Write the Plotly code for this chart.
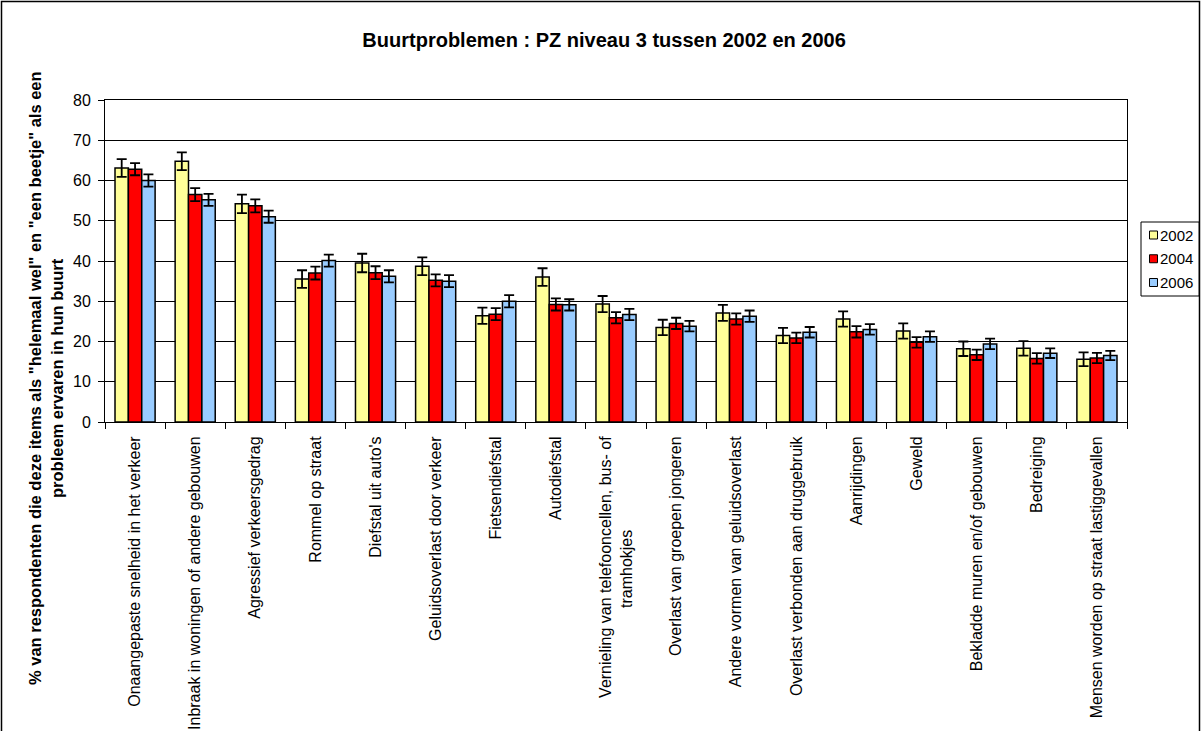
import plotly.graph_objects as go

categories = [
    "Onaangepaste snelheid in het verkeer",
    "Inbraak in woningen of andere gebouwen",
    "Agressief verkeersgedrag",
    "Rommel op straat",
    "Diefstal uit auto's",
    "Geluidsoverlast door verkeer",
    "Fietsendiefstal",
    "Autodiefstal",
    "Vernieling van telefooncellen, bus- of<br>tramhokjes" + "\u00a0" * 21,
    "Overlast van groepen jongeren",
    "Andere vormen van geluidsoverlast",
    "Overlast verbonden aan druggebruik",
    "Aanrijdingen",
    "Geweld",
    "Bekladde muren en/of gebouwen",
    "Bedreiging",
    "Mensen worden op straat lastiggevallen",
]

years = ["2002", "2004", "2006"]

values_2002 = [63.1, 64.8, 54.2, 35.5, 39.5, 38.7, 26.4, 36.0, 29.3, 23.5, 27.1, 21.5, 25.6, 22.6, 18.2, 18.3, 15.6]
values_2004 = [62.8, 56.5, 53.7, 37.0, 37.1, 35.2, 26.8, 29.2, 25.9, 24.5, 25.6, 20.9, 22.4, 19.8, 16.7, 15.8, 15.9]
values_2006 = [60.0, 55.2, 51.0, 40.1, 36.2, 35.0, 30.0, 29.1, 26.7, 23.8, 26.3, 22.3, 23.0, 21.2, 19.4, 17.1, 16.5]

err_2002 = [2.2, 2.2, 2.3, 2.2, 2.3, 2.2, 2.0, 2.2, 2.0, 1.9, 2.0, 1.9, 1.9, 1.9, 1.8, 1.8, 1.7]
err_2004 = [1.5, 1.6, 1.6, 1.6, 1.6, 1.5, 1.5, 1.5, 1.4, 1.4, 1.4, 1.3, 1.4, 1.3, 1.3, 1.3, 1.25]
err_2006 = [1.5, 1.5, 1.5, 1.5, 1.5, 1.5, 1.5, 1.4, 1.4, 1.3, 1.4, 1.3, 1.3, 1.3, 1.3, 1.2, 1.15]

y_ticks = [0, 10, 20, 30, 40, 50, 60, 70, 80]

title_text = "Buurtproblemen : PZ niveau 3 tussen 2002 en 2006"
ytitle_lines = [
    "% van respondenten die deze items als \"helemaal wel\" en \"een beetje\" als een",
    "probleem ervaren in hun buurt",
]

colors = ["#FFFF99", "#FF0000", "#99CCFF"]
series = [values_2002, values_2004, values_2006]
errors = [err_2002, err_2004, err_2006]

FONT = "Arial, 'Liberation Sans', sans-serif"

W, H = 1201, 731
L, R, T, B = 105, 74, 100, 309
PW, PH = W - L - R, H - T - B


def px(X):
    return (X - L) / PW


def py(Y):
    return (H - B - Y) / PH


fig = go.Figure()
for name, vals, errs, col in zip(years, series, errors, colors):
    fig.add_trace(go.Bar(
        name=name, x=categories, y=vals,
        marker=dict(color=col, line=dict(color="black", width=1.5)),
        error_y=dict(type="data", array=errs, visible=True,
                     color="black", thickness=1.8, width=5),
        showlegend=False,
    ))

fig.update_layout(
    width=W, height=H,
    paper_bgcolor="white", plot_bgcolor="white",
    margin=dict(l=L, r=R, t=T, b=B, autoexpand=False),
    barmode="group", bargap=0.333, bargroupgap=0,
    font=dict(family=FONT, size=16, color="black"),
    title=dict(text="<b>" + title_text + "</b>",
               x=0.503, xanchor="center", y=1 - 40 / H, yanchor="middle",
               font=dict(family=FONT, size=20, color="black")),
)

fig.update_xaxes(
    type="category", tickangle=-90, tickson="boundaries",
    ticks="outside", ticklen=6, tickcolor="black", ticklabelstandoff=7,
    showline=True, linecolor="black", linewidth=1, mirror=True,
    tickfont=dict(family=FONT, size=16, color="black"),
    showgrid=False,
)
fig.update_yaxes(
    range=[0, 80], tickvals=y_ticks, ticks="outside", ticklen=6, tickcolor="black",
    ticklabelstandoff=4,
    showline=True, linecolor="black", linewidth=1, mirror=True,
    showgrid=True, gridcolor="black", gridwidth=1,
    tickfont=dict(family=FONT, size=16, color="black"),
    zeroline=False,
)

# y-axis title: two centred lines, placed like the Excel original
for i, line in enumerate(ytitle_lines):
    fig.add_annotation(
        text="<b>" + line + "</b>", textangle=-90,
        xref="paper", yref="paper", x=px(35 + i * 22), y=py(378),
        xanchor="center", yanchor="middle", showarrow=False,
        font=dict(family=FONT, size=16.5, color="black"),
    )

# outer chart frame
fig.add_shape(type="rect", xref="paper", yref="paper",
              x0=px(1.5), x1=px(1199.5), y0=py(745), y1=py(1.5),
              line=dict(color="black", width=1.5), fillcolor="rgba(0,0,0,0)", layer="below")

# legend (drawn manually so that it fits the narrow box of the reference)
fig.add_shape(type="rect", xref="paper", yref="paper",
              x0=px(1141), x1=px(1199), y0=py(296), y1=py(222),
              line=dict(color="black", width=1), fillcolor="white")
for i, (name, col) in enumerate(zip(years, colors)):
    cy = 235 + i * 23.75
    fig.add_shape(type="rect", xref="paper", yref="paper",
                  x0=px(1149.5), x1=px(1157.5), y0=py(cy + 4), y1=py(cy - 4),
                  line=dict(color="black", width=1), fillcolor=col)
    fig.add_annotation(text=name, xref="paper", yref="paper",
                       x=px(1158), y=py(cy), xanchor="left", yanchor="middle",
                       showarrow=False, font=dict(family=FONT, size=15, color="black"))

fig.write_html("out.html", config={"displayModeBar": False},
               post_script="document.body.style.margin='0';")
